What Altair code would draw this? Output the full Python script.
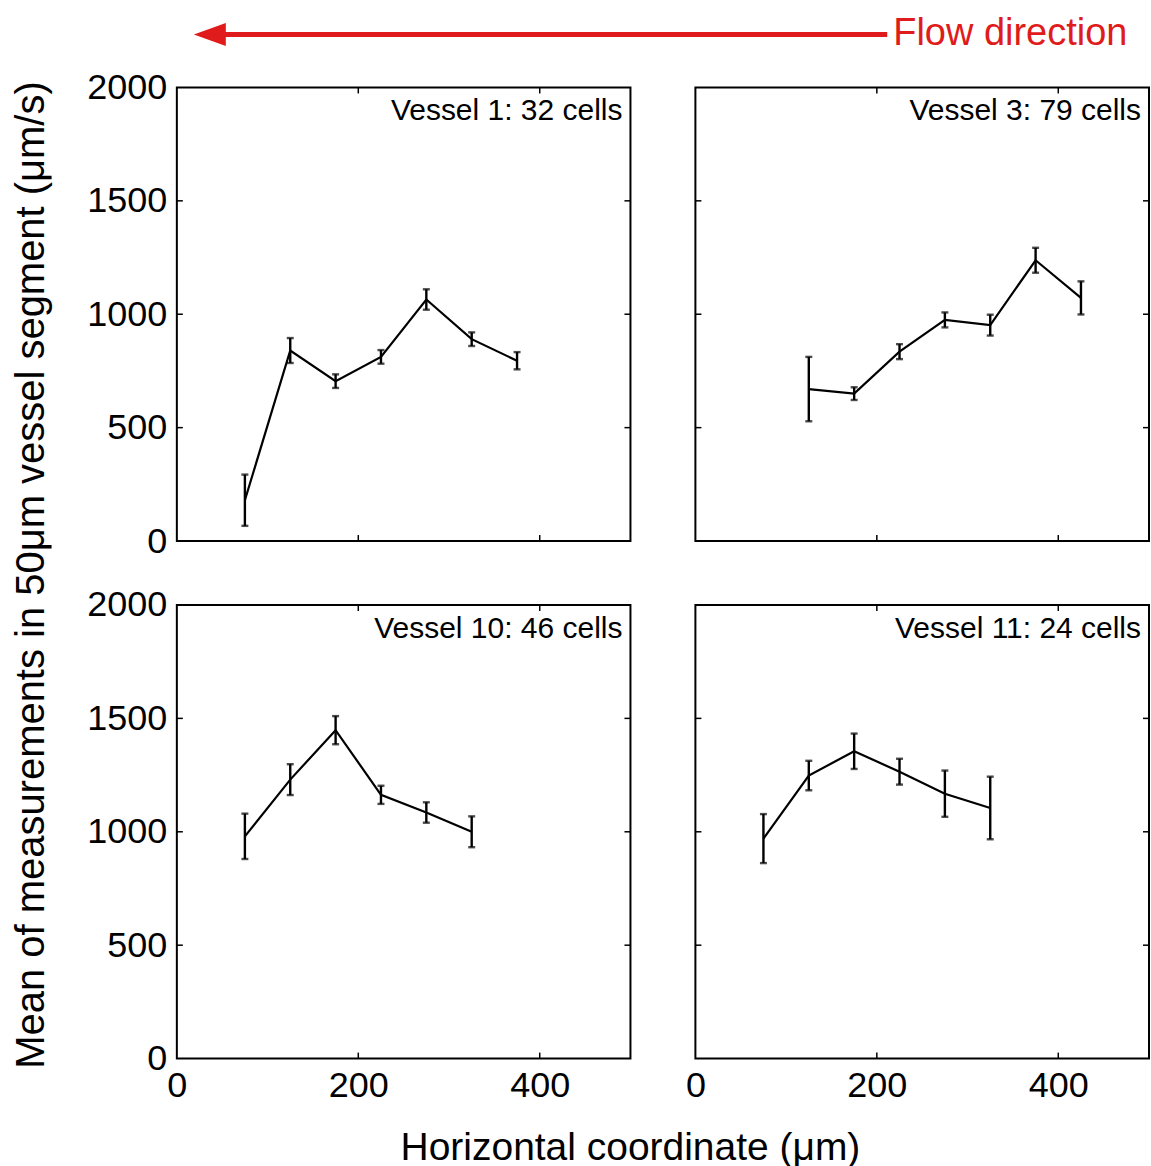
import altair as alt
import pandas as pd

FONT = "Liberation Sans"
RED = "#e01b1b"

# ---- data ----
V1_NAME = "Vessel 1: 32 cells"
V1_X = [75, 125, 175, 225, 275, 325, 375]
V1_MEAN = [180, 840, 705, 812, 1065, 890, 795]
V1_ERR = [113, 55, 30, 30, 45, 30, 38]

V3_NAME = "Vessel 3: 79 cells"
V3_X = [125, 175, 225, 275, 325, 375, 425]
V3_MEAN = [670, 650, 835, 975, 952, 1238, 1072]
V3_ERR = [142, 28, 33, 33, 46, 55, 73]

V10_NAME = "Vessel 10: 46 cells"
V10_X = [75, 125, 175, 225, 275, 325]
V10_MEAN = [980, 1230, 1448, 1163, 1085, 1000]
V10_ERR = [100, 68, 62, 40, 45, 68]

V11_NAME = "Vessel 11: 24 cells"
V11_X = [75, 125, 175, 225, 275, 325]
V11_MEAN = [970, 1248, 1355, 1265, 1168, 1105]
V11_ERR = [108, 65, 78, 57, 102, 138]

X_TICKS = [0, 200, 400]
Y_TICKS = [0, 500, 1000, 1500, 2000]
X_INNER_TICKS = [200, 400]
Y_INNER_TICKS = [500, 1000, 1500]

X_TITLE = "Horizontal coordinate (\u03bcm)"
Y_TITLE = "Mean of measurements in 50\u03bcm vessel segment (\u03bcm/s)"
FLOW_LABEL = "Flow direction"

W = 454
H = 454

xs = alt.Scale(domain=[0, 500], nice=False, zero=False)
ys = alt.Scale(domain=[0, 2000], nice=False, zero=False)


def make_panel(name, xv, mv, ev, show_x, show_y, extra=None):
    df = pd.DataFrame({
        "x": xv,
        "mean": mv,
        "lo": [m - e for m, e in zip(mv, ev)],
        "hi": [m + e for m, e in zip(mv, ev)],
    })
    if show_x:
        xaxis = alt.Axis(values=X_TICKS, title=None, ticks=False, domain=False, grid=False,
                         labelFontSize=36, labelFont=FONT, labelColor="black", format="d",
                         labelPadding=10, labelFlush=False)
    else:
        xaxis = None
    if show_y:
        yaxis = alt.Axis(values=Y_TICKS, title=None, ticks=False, domain=False, grid=False,
                         labelFontSize=36, labelFont=FONT, labelColor="black", format="d",
                         labelPadding=10, labelFlush=False)
    else:
        yaxis = None

    def X(f):
        return alt.X(f"{f}:Q", scale=xs, axis=xaxis)

    def Y(f):
        return alt.Y(f"{f}:Q", scale=ys, axis=yaxis)

    base = alt.Chart(df)
    line = base.mark_line(color="black", strokeWidth=2.2).encode(x=X("x"), y=Y("mean"))
    bars = base.mark_rule(color="black", strokeWidth=2.4).encode(x=X("x"), y=Y("lo"), y2="hi")
    cap_lo = base.mark_tick(color="black", orient="horizontal", size=7, thickness=2.4).encode(x=X("x"), y=Y("lo"))
    cap_hi = base.mark_tick(color="black", orient="horizontal", size=7, thickness=2.4).encode(x=X("x"), y=Y("hi"))

    ydf = pd.DataFrame({"mean": Y_INNER_TICKS})
    xdf = pd.DataFrame({"x": X_INNER_TICKS})
    yt_l = alt.Chart(ydf).mark_rule(color="black", strokeWidth=1.5).encode(
        y=Y("mean"), x=alt.value(0), x2=alt.value(6))
    yt_r = alt.Chart(ydf).mark_rule(color="black", strokeWidth=1.5).encode(
        y=Y("mean"), x=alt.value(W - 6), x2=alt.value(W))
    xt_b = alt.Chart(xdf).mark_rule(color="black", strokeWidth=1.5).encode(
        x=X("x"), y=alt.value(H - 6), y2=alt.value(H))
    xt_t = alt.Chart(xdf).mark_rule(color="black", strokeWidth=1.5).encode(
        x=X("x"), y=alt.value(0), y2=alt.value(6))

    label = alt.Chart(pd.DataFrame({"label": [name]})).mark_text(
        align="right", baseline="middle", fontSize=30, font=FONT, color="black"
    ).encode(text="label:N", x=alt.value(W - 8), y=alt.value(24))

    layers = [yt_l, yt_r, xt_b, xt_t, line, bars, cap_lo, cap_hi, label]
    if extra:
        layers += extra
    return alt.layer(*layers).properties(width=W, height=H)


# annotations
flow_df = pd.DataFrame({"label": [FLOW_LABEL]})
arrow_line = alt.Chart(flow_df).mark_rule(color=RED, strokeWidth=5).encode(
    x=alt.value(44), x2=alt.value(711), y=alt.value(-53))
arrow_head = alt.Chart(flow_df).mark_point(
    shape="M -1 0 L 1 -0.72 L 1 0.72 Z", filled=True, color=RED, opacity=1, size=1024
).encode(x=alt.value(33), y=alt.value(-53))
flow_text = alt.Chart(flow_df).mark_text(
    align="left", baseline="middle", fontSize=38, font=FONT, color=RED
).encode(text="label:N", x=alt.value(717), y=alt.value(-53))

xt_df = pd.DataFrame({"label": [X_TITLE]})
x_title = alt.Chart(xt_df).mark_text(
    align="center", baseline="middle", fontSize=39, font=FONT, color="black"
).encode(text="label:N", x=alt.value(454), y=alt.value(543))
yt_df = pd.DataFrame({"label": [Y_TITLE]})
y_title = alt.Chart(yt_df).mark_text(
    align="center", baseline="middle", fontSize=40, font=FONT, color="black", angle=270
).encode(text="label:N", x=alt.value(-145), y=alt.value(-30))

p1 = make_panel(V1_NAME, V1_X, V1_MEAN, V1_ERR, False, True, [arrow_line, arrow_head, flow_text])
p3 = make_panel(V3_NAME, V3_X, V3_MEAN, V3_ERR, False, False)
p10 = make_panel(V10_NAME, V10_X, V10_MEAN, V10_ERR, True, True, [x_title, y_title])
p11 = make_panel(V11_NAME, V11_X, V11_MEAN, V11_ERR, True, False)

chart = alt.concat(
    p1, p3, p10, p11, columns=2, spacing={"row": 64, "column": 65}, bounds="flush"
).properties(
    padding={"left": 10, "top": 14, "right": 0, "bottom": 0},
    background="white",
).configure_view(
    stroke="black", strokeWidth=2
)

chart.save("out.html", embed_options={"renderer": "svg", "actions": False})
